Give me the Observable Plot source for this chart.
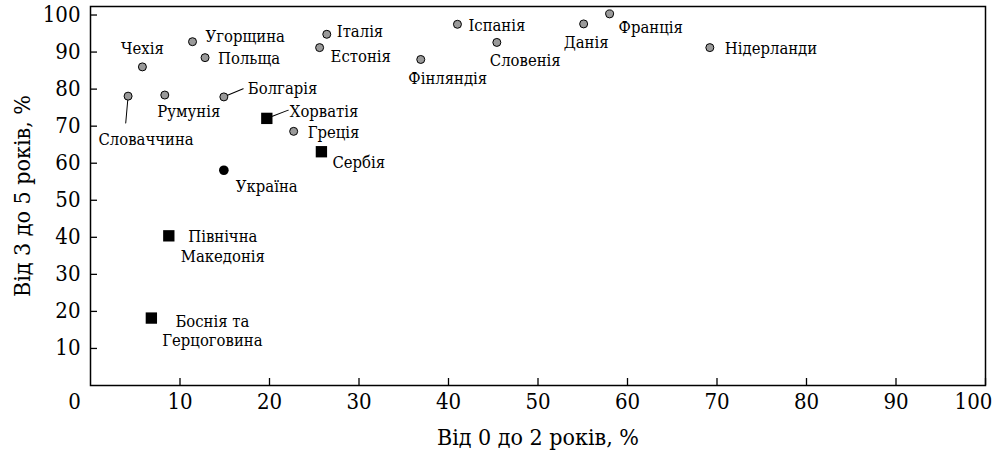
<!DOCTYPE html>
<html><head><meta charset="utf-8">
<script src="https://cdn.jsdelivr.net/npm/d3@7"></script>
<script src="https://cdn.jsdelivr.net/npm/@observablehq/plot@0.6"></script>
<style>
body{margin:0;background:#fff}
#chart svg text { font-stretch: condensed; }
</style>
</head><body><div id="chart"></div>
<script>
// ---- data ----
const countries = ["Словаччина","Чехія","Румунія","Угорщина","Польща","Болгарія","Україна","Хорватія","Греція","Сербія","Естонія","Італія","Фінляндія","Іспанія","Словенія","Данія","Франція","Нідерланди","Північна\nМакедонія","Боснія та\nГерцоговина"];
const age0to2 = [4.2,5.8,8.3,11.4,12.8,14.9,14.9,19.7,22.7,25.8,25.6,26.4,36.9,41.0,45.4,55.1,58.0,69.2,8.75,6.8];
const age3to5 = [78.1,86.0,78.4,92.8,88.5,77.9,58.1,72.1,68.6,63.1,91.2,94.8,88.0,97.5,92.6,97.6,100.3,91.2,40.4,18.2];
const groups = ["eu","eu","eu","eu","eu","eu","ua","sq","eu","sq","eu","eu","eu","eu","eu","eu","eu","eu","sq","sq"];
const xTickValues = [10,20,30,40,50,60,70,80,90,100];
const xTickLabelsInner = [10,20,30,40,50,60,70,80,90];
const yTickValues = [10,20,30,40,50,60,70,80,90,100];
const xTitle = "Від 0 до 2 років, %";
const yTitle = "Від 3 до 5 років, %";

// ---- layout (label offsets in pixels, leader lines) ----
const labelLayout = [
  [18,43,"middle"],[0,-19,"middle"],[24,16,"middle"],[13,-6,"start"],[13,0,"start"],
  [24,-9,"start"],[12,15,"start"],[23,-8,"start"],[14,0,"start"],[11,10,"start"],
  [11,8,"start"],[10,-4,"start"],[27,18,"middle"],[11,0,"start"],[-7,17,"start"],
  [-20,18,"start"],[9,13,"start"],[15,0,"start"],[54,10,"middle"],[61,12,"middle"]
];
const leaders = [ // [index, length, rotate, startOffset]
  [0, 27, 185, 4],
  [5, 21, 67, 4],
  [7, 23, 69, 6]
];

const FONT = "DejaVu Serif";
const rows = countries.map((c,i)=>({name:c, x:age0to2[i], y:age3to5[i], g:groups[i]}));

const leaderMarks = leaders.map(([i,len,rot,off]) => Plot.vector([rows[i]], {
  x:"x", y:"y", length: len, rotate: rot, anchor:"start", stroke:"black", strokeWidth:1,
  shape: {draw(ctx, l){ ctx.moveTo(0, -off); ctx.lineTo(0, -l); }}
}));

const labelMarks = rows.map((d,i) => Plot.text([d], {
  x:"x", y:"y", text:"name", dx: labelLayout[i][0], dy: labelLayout[i][1],
  textAnchor: labelLayout[i][2], fontSize: 16.5, lineHeight: 1.2, fill:"black", fontFamily: FONT
}));

const chart = Plot.plot({
  width: 999, height: 451,
  marginLeft: 90, marginRight: 14, marginTop: 6, marginBottom: 66,
  style: {fontFamily: FONT, color: "black", background: "white"},
  x: {domain: [0,100]},
  y: {domain: [0,102.3]},
  marks: [
    Plot.axisX(xTickLabelsInner, {tickSize: 0, tickPadding: 8, fontSize: 22, label: null, fontFamily: FONT}),
    Plot.axisX([0], {tickSize: 0, tickPadding: 8, fontSize: 22, dx: -16, label: null, fontFamily: FONT}),
    Plot.axisX([100], {tickSize: 0, tickPadding: 8, fontSize: 22, dx: -12, label: null, fontFamily: FONT}),
    Plot.axisX(xTickValues, {tickSize: -7, tickFormat: () => "", label: null, strokeWidth: 1.3}),
    Plot.axisY(yTickValues, {tickSize: 0, tickPadding: 10, fontSize: 22, label: null, fontFamily: FONT}),
    Plot.axisY(yTickValues, {tickSize: -7, tickFormat: () => "", label: null, strokeWidth: 1.3}),
    Plot.frame({stroke: "black", strokeWidth: 1.5}),
    Plot.text([xTitle], {frameAnchor: "bottom", textAnchor: "middle", lineAnchor: "middle", dy: 52, fontSize: 23, fill: "black", fontFamily: FONT}),
    Plot.text([yTitle], {frameAnchor: "left", textAnchor: "middle", lineAnchor: "middle", dx: -68, rotate: -90, fontSize: 23, fill: "black", fontFamily: FONT}),
    ...leaderMarks,
    Plot.dot(rows.filter(d=>d.g==="eu"), {x:"x", y:"y", r:4, fill:"#9a9a9a", stroke:"black", strokeWidth:1}),
    Plot.dot(rows.filter(d=>d.g==="ua"), {x:"x", y:"y", r:4.8, fill:"black", stroke:"none"}),
    Plot.dot(rows.filter(d=>d.g==="sq"), {x:"x", y:"y", r:6.4, symbol:"square", fill:"black", stroke:"none"}),
    ...labelMarks
  ]
});
document.getElementById("chart").appendChild(chart);
</script>
</body></html>
